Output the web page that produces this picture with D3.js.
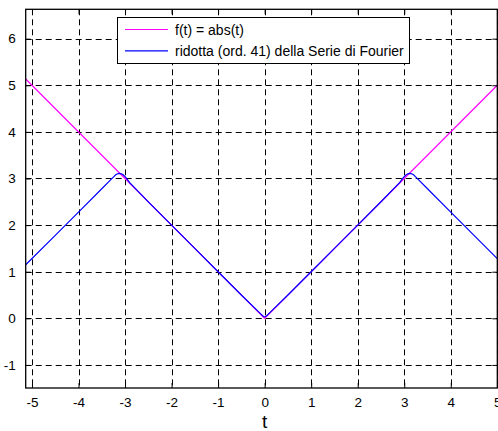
<!DOCTYPE html>
<html>
<head>
<meta charset="utf-8">
<script src="https://cdn.jsdelivr.net/npm/d3@7"></script>
<style>
  html, body { margin: 0; padding: 0; background: #fff; }
  svg { display: block; }
  text { font-family: "Liberation Sans", Arial, sans-serif; }
</style>
</head>
<body>
<svg id="chart" width="498" height="431"></svg>
<script>
// Axis ticks
const xTicks = [-5, -4, -3, -2, -1, 0, 1, 2, 3, 4, 5];
const yTicks = [-1, 0, 1, 2, 3, 4, 5, 6];

// f(t) = |t|
const absT = [-5.135, 0, 5.0];
const absV = [5.135, 0, 5.0];

// Partial Fourier sum (order 41) of the periodic |t|
const serT = [-5.135, -4.5, -4.0, -3.5, -3.3, -3.24, -3.2, -3.16, -3.12, -3.08, -3.04, -2.98, -2.9, -2.5, -2.0, -1.5, -1.0, -0.5, -0.15, -0.09, -0.05, -0.02, 0, 0.02, 0.05, 0.09, 0.15, 0.5, 1.0, 1.5, 2.0, 2.5, 2.9, 2.98, 3.04, 3.08, 3.12, 3.16, 3.2, 3.24, 3.3, 3.5, 4.0, 4.5, 5.0];
const serV = [1.15, 1.78, 2.28, 2.78, 2.98, 3.04, 3.08, 3.10, 3.11, 3.10, 3.08, 3.02, 2.91, 2.50, 2.00, 1.50, 1.00, 0.50, 0.16, 0.10, 0.06, 0.04, 0.03, 0.04, 0.06, 0.10, 0.16, 0.50, 1.00, 1.50, 2.00, 2.50, 2.91, 3.02, 3.08, 3.10, 3.11, 3.10, 3.08, 3.04, 2.98, 2.78, 2.28, 1.78, 1.28];

const legendLabels = ["f(t) = abs(t)", "ridotta (ord. 41) della Serie di Fourier"];
const colors = ["#ff00ff", "#0000ff"];

const svg = d3.select("#chart");
const m = { left: 25.7, top: 9.3, right: 497.3, bottom: 388 };

const x = d3.scaleLinear().domain([-5.135, 5.0]).range([m.left, m.right]);
const y = d3.scaleLinear().domain([-1.495, 6.63]).range([m.bottom, m.top]);

svg.append("defs").append("clipPath").attr("id", "plotclip")
  .append("rect").attr("x", m.left).attr("y", m.top)
  .attr("width", m.right - m.left).attr("height", m.bottom - m.top);

// Dashed grid
const grid = svg.append("g").attr("stroke", "#000").attr("stroke-width", 1)
  .attr("stroke-dasharray", "6,4").attr("fill", "none");
grid.selectAll("line.v").data(xTicks).join("line").attr("class", "v")
  .attr("x1", d => Math.round(x(d)) + 0.5).attr("x2", d => Math.round(x(d)) + 0.5)
  .attr("y1", m.top).attr("y2", m.bottom);
grid.selectAll("line.h").data(yTicks).join("line").attr("class", "h")
  .attr("y1", d => Math.round(y(d)) + 0.5).attr("y2", d => Math.round(y(d)) + 0.5)
  .attr("x1", m.left).attr("x2", m.right);

// Curves
const plot = svg.append("g").attr("clip-path", "url(#plotclip)");
const line = d3.line().x(d => x(d[0])).y(d => y(d[1]));
plot.append("path").datum(d3.zip(absT, absV)).attr("d", line)
  .attr("fill", "none").attr("stroke", colors[0]).attr("stroke-width", 1.2);
plot.append("path").datum(d3.zip(serT, serV)).attr("d", line)
  .attr("fill", "none").attr("stroke", colors[1]).attr("stroke-width", 1.2);

// Axes with inward ticks on all four sides
const tickLen = 5;
const fmt = d => String(d);
const axB = svg.append("g").attr("transform", `translate(0,${m.bottom})`)
  .call(d3.axisBottom(x).tickValues(xTicks).tickSizeInner(-tickLen).tickSizeOuter(0).tickPadding(9).tickFormat(fmt));
const axT = svg.append("g").attr("transform", `translate(0,${m.top})`)
  .call(d3.axisTop(x).tickValues(xTicks).tickSizeInner(-tickLen).tickSizeOuter(0).tickFormat(""));
const axL = svg.append("g").attr("transform", `translate(${m.left},0)`)
  .call(d3.axisLeft(y).tickValues(yTicks).tickSizeInner(-tickLen).tickSizeOuter(0).tickPadding(10).tickFormat(fmt));
const axR = svg.append("g").attr("transform", `translate(${m.right},0)`)
  .call(d3.axisRight(y).tickValues(yTicks).tickSizeInner(-tickLen).tickSizeOuter(0).tickFormat(""));
[axB, axT, axL, axR].forEach(a => {
  a.selectAll(".domain").remove();
  a.selectAll("line").attr("stroke", "#000");
  a.selectAll("text").attr("font-size", 13.5).attr("fill", "#000")
    .style("font-family", '"Liberation Sans", Arial, sans-serif');
});

// Plot box
svg.append("rect").attr("x", m.left).attr("y", m.top)
  .attr("width", m.right - m.left).attr("height", m.bottom - m.top)
  .attr("fill", "none").attr("stroke", "#000").attr("stroke-width", 1.3);

// Axis label
svg.append("text").attr("x", x(0)).attr("y", 428).attr("text-anchor", "middle")
  .attr("font-size", 19).text("t");

// Legend
const lg = svg.append("g");
lg.append("rect").attr("x", 117.5).attr("y", 17.5).attr("width", 292).attr("height", 46)
  .attr("fill", "#fff").attr("stroke", "#000").attr("stroke-width", 1);
legendLabels.forEach((lab, i) => {
  const ly = 29.5 + i * 21.3;
  lg.append("line").attr("x1", 125).attr("x2", 168).attr("y1", ly).attr("y2", ly)
    .attr("stroke", colors[i]).attr("stroke-width", 1.2);
  lg.append("text").attr("x", 175).attr("y", ly + 5).attr("font-size", 14)
    .attr("fill", "#000").text(lab);
});
</script>
</body>
</html>
